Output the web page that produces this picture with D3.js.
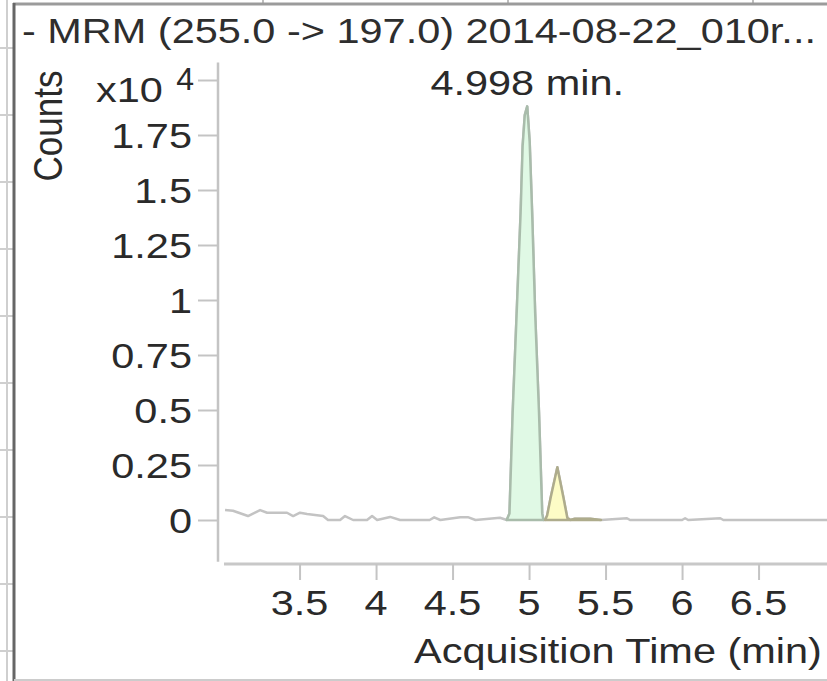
<!DOCTYPE html>
<html>
<head>
<meta charset="utf-8">
<script src="https://cdn.jsdelivr.net/npm/d3@7/dist/d3.min.js"></script>
<style>
  html, body { margin: 0; padding: 0; background: #fff; }
  svg { display: block; }
  text { font-family: "Liberation Sans", Arial, sans-serif; }
</style>
</head>
<body>
<svg id="chart" width="827" height="681"></svg>
<script>
// ---- data ----
const title = "- MRM (255.0 -> 197.0) 2014-08-22_010r...";
const xLabel = "Acquisition Time (min)";
const yLabel = "Counts";
const peakLabel = "4.998 min.";
const yExponent = "4";
const yMultiplier = "x10";

// retention time (min)
const times = [3.013, 3.065, 3.163, 3.242, 3.288, 3.418, 3.458, 3.503, 3.549, 3.654,
  3.686, 3.765, 3.797, 3.850, 3.941, 3.974, 4.007, 4.092, 4.157, 4.35,
  4.38, 4.42, 4.55, 4.60, 4.65, 4.81, 4.854, 4.872, 4.893, 4.919,
  4.945, 4.958, 4.972, 4.988, 5.004, 5.020, 5.040, 5.065, 5.086, 5.094,
  5.105, 5.118, 5.142, 5.185, 5.224, 5.25, 5.27, 5.30, 5.40, 5.47,
  5.64, 5.66, 6.0, 6.02, 6.04, 6.25, 6.27, 6.95];
// counts
const counts = [450, 420, 180, 450, 330, 330, 180, 330, 270, 180,
  0, 0, 180, 0, 0, 180, 0, 140, 0, 0,
  120, 0, 130, 130, 0, 100, 0, 300, 4900, 9400,
  14000, 17000, 18400, 18800, 17200, 14000, 9400, 4900, 300, 0,
  0, 200, 1050, 2400, 1050, 100, 0, 60, 60, 0,
  80, 0, 0, 80, 0, 80, 0, 0];

const peakWindows = [[4.854, 5.094], [5.105, 5.47]];
const peakFills = ["#e0f9e5", "#fdfcc6"];
const peakStrokes = ["#a9bcab", "#aeac8c"];

const xTicks = [3.5, 4, 4.5, 5, 5.5, 6, 6.5];
const xTickLabels = ["3.5", "4", "4.5", "5", "5.5", "6", "6.5"];
const yTicks = [0, 0.25, 0.5, 0.75, 1, 1.25, 1.5, 1.75, 2];
const yTickLabels = ["0", "0.25", "0.5", "0.75", "1", "1.25", "1.5", "1.75", ""];

// ---- drawing ----
const svg = d3.select("#chart");
const W = 827, H = 681;
const SX = 1.185; // horizontal text stretch of the reference
const FS = 35;

const x = d3.scaleLinear().domain([2.98, 6.95]).range([220, 827.4]);
const y = d3.scaleLinear().domain([-0.19, 2.08]).range([561.8, 62.4]);

const data = times.map((t, i) => ({ t, v: counts[i] / 1e4 }));

// frame / surrounding sheet decoration
const deco = svg.append("g");
deco.append("line").attr("x1", 7).attr("x2", 7).attr("y1", 0).attr("y2", H)
  .attr("stroke", "#cfcfcf").attr("stroke-width", 2);
d3.range(48, H, 67).forEach(yy => {
  deco.append("line").attr("x1", 0).attr("x2", 13).attr("y1", yy).attr("y2", yy)
    .attr("stroke", "#cfcfcf").attr("stroke-width", 2);
});
[263, 508, 753].forEach(xx => {
  deco.append("line").attr("x1", xx).attr("x2", xx).attr("y1", 0).attr("y2", 4)
    .attr("stroke", "#bdbdbd").attr("stroke-width", 2);
});
deco.append("line").attr("x1", 13).attr("x2", W).attr("y1", 4).attr("y2", 4)
  .attr("stroke", "#9b9b9b").attr("stroke-width", 3);
deco.append("line").attr("x1", 14).attr("x2", 14).attr("y1", 3).attr("y2", H)
  .attr("stroke", "#666").attr("stroke-width", 3);
deco.append("line").attr("x1", 14).attr("x2", W).attr("y1", 680).attr("y2", 680)
  .attr("stroke", "#cccccc").attr("stroke-width", 2);

// axes
const yAxis = d3.axisLeft(y).tickValues(yTicks).tickSize(20).tickFormat("");
const gy = svg.append("g").attr("transform", "translate(218,0)").call(yAxis);
gy.select(".domain").attr("d", `M0,${y(2.08)}V${y(-0.19)}`)
  .attr("stroke", "#c4c4c4").attr("stroke-width", 2.5);
gy.selectAll(".tick line").attr("stroke", "#c4c4c4").attr("stroke-width", 2);

const xAxis = d3.axisBottom(x).tickValues(xTicks).tickSize(16).tickFormat("");
const gx = svg.append("g").attr("transform", "translate(0,564)").call(xAxis);
gx.select(".domain").attr("d", `M224,0H${W}`)
  .attr("stroke", "#c8c8c8").attr("stroke-width", 3);
gx.selectAll(".tick line").attr("stroke", "#c4c4c4").attr("stroke-width", 2);

// trace
const line = d3.line().x(d => x(d.t)).y(d => y(d.v));
svg.append("path").datum(data).attr("d", line)
  .attr("fill", "none").attr("stroke", "#c3c3c3").attr("stroke-width", 2.5)
  .attr("stroke-linejoin", "round");

// integrated peaks
const area = d3.area().x(d => x(d.t)).y0(y(0)).y1(d => y(d.v));
peakWindows.forEach((w, i) => {
  const seg = data.filter(d => d.t >= w[0] && d.t <= w[1]);
  svg.append("path").datum(seg).attr("d", area)
    .attr("fill", peakFills[i]).attr("stroke", peakStrokes[i])
    .attr("stroke-width", 2.5).attr("stroke-linejoin", "round");
});

// text helper (reference text is stretched horizontally)
function txt(str, tx, ty, anchor, opts = {}) {
  const size = opts.size || FS;
  const sx = opts.sx || SX;
  const rot = opts.rotate ? ` rotate(${opts.rotate})` : "";
  return svg.append("text")
    .attr("transform", `translate(${tx},${ty}) scale(${sx},1)${rot}`)
    .attr("text-anchor", anchor)
    .attr("font-size", size)
    .attr("fill", opts.fill || "#2a2a2a")
    .text(str);
}

// title
txt(title, 22, 43, "start", { fill: "#2e2e2e" });

// y tick labels
yTicks.forEach((v, i) => {
  if (yTickLabels[i]) txt(yTickLabels[i], 192, y(v) + 12.5, "end");
});
// exponent
txt(yMultiplier, 96, 102, "start");
txt(yExponent, 194, 90, "end", { size: 32, sx: 1.0 });

// x tick labels
xTicks.forEach((v, i) => txt(xTickLabels[i], x(v), 615, "middle"));

// axis titles
txt(xLabel, 618, 663, "middle");
txt(yLabel, 62, 126, "middle", { rotate: -90 });

// peak label at apex
const apex = data.reduce((a, b) => (b.v > a.v ? b : a));
txt(peakLabel, x(apex.t), 95, "middle");
</script>
</body>
</html>
